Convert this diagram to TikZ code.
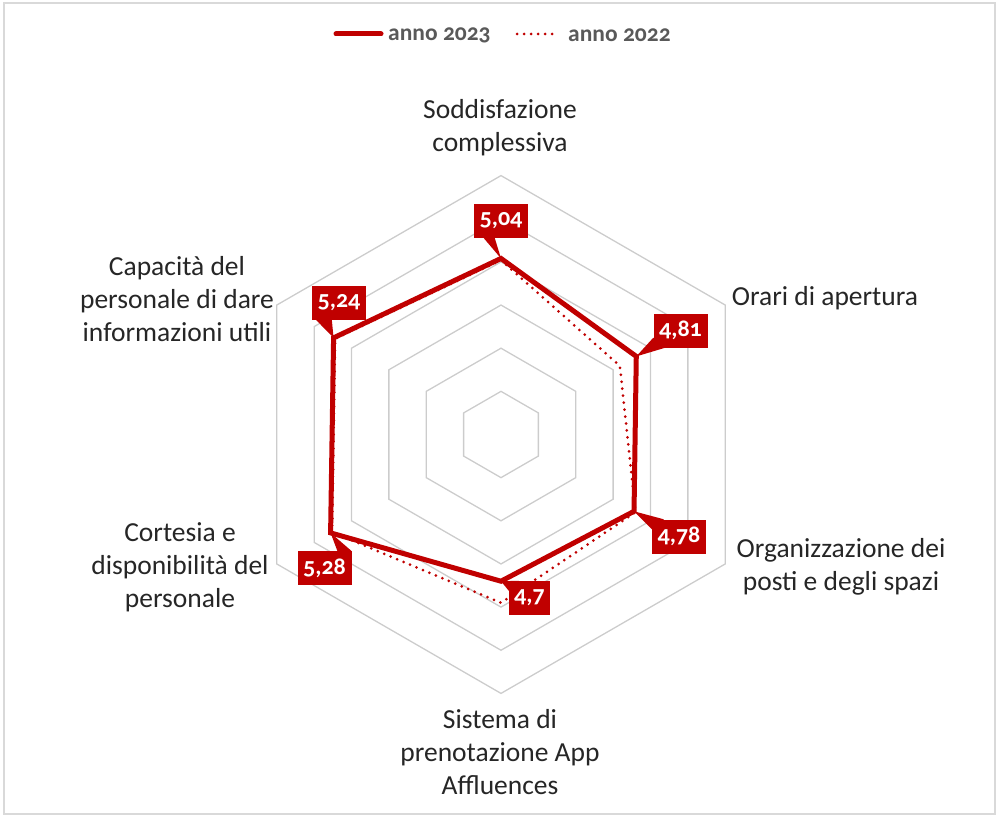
\documentclass[tikz,border=0pt]{standalone}
\usepackage{fontspec}
\setmainfont{Carlito}
\newfontfamily\oldnum{Carlito}[Numbers=OldStyle]
\usepackage{tikz}
\usetikzlibrary{positioning,calc}
\definecolor{chartred}{HTML}{C00000}
\definecolor{gridgray}{HTML}{CCCCCC}

\begin{document}
\begin{tikzpicture}[x=1pt, y=-1pt,
    axislab/.style={font=\fontsize{27.5}{33}\selectfont, text=black!85, align=center},
    vallab/.style={fill=chartred, text=white, inner sep=0pt,
      font=\oldnum\bfseries\fontsize{24}{24}\selectfont,
      minimum height=34pt, minimum width=54pt},
    legtext/.style={font=\oldnum\bfseries\fontsize{23.5}{24}\selectfont,
      text=black!65, anchor=west, inner sep=0pt}]
  \useasboundingbox (0,0) rectangle (997,816);
  % Frame
  \draw[gray!30, line width=1.5pt] (4,3) rectangle (995,814);

  % Legend
  \coordinate (la) at (336,34);
  \coordinate (lb) at (381,34);
  \coordinate (lc) at (517,34);
  \coordinate (ld) at (559,34);
  \draw[chartred, line width=5pt, line cap=round] (la) -- (lb);
  \node[legtext] (leg23) at (388,35) {anno 2023};
  \draw[chartred, line width=3pt, line cap=round, dash pattern=on 0pt off 7pt] (lc) -- (ld);
  \node[legtext] (leg22) at (568,35) {anno 2022};

  % Grid rings (axis from 3 to 6, step 0.5)
  \begin{scope}[shift={(501,434.5)}, y=1pt]
    \foreach \k in {1,...,6} {
      \draw[gridgray, line width=1.3pt, line join=miter]
        (90:{\k*43.15}) -- (30:{\k*43.15}) -- (-30:{\k*43.15}) --
        (-90:{\k*43.15}) -- (210:{\k*43.15}) -- (150:{\k*43.15}) -- cycle;
    }
    % anno 2023
    \foreach \a/\v/\n in {90/5.04/p1, 30/4.81/p2, -30/4.78/p3,
        -90/4.70/p4, 210/5.28/p5, 150/5.24/p6}
      \coordinate (\n) at (\a:{(\v-3)*86.3});
    % anno 2022
    \foreach \a/\v/\n in {90/5.02/q1, 30/4.59/q2, -30/4.80/q3,
        -90/4.95/q4, 210/5.26/q5, 150/5.22/q6}
      \coordinate (\n) at (\a:{(\v-3)*86.3});
  \end{scope}

  % Series
  \draw[chartred, line width=3pt, line cap=round, dash pattern=on 0pt off 7pt]
    (q1) -- (q2) -- (q3) -- (q4) -- (q5) -- (q6) -- cycle;
  \draw[chartred, line width=5pt, line join=miter]
    (p1) -- (p2) -- (p3) -- (p4) -- (p5) -- (p6) -- cycle;

  % Data labels
  \node[vallab] (v1) at (501,221) {5,04};
  \node[vallab] (v2) at (680.5,330.5) {4,81};
  \node[vallab] (v3) at (679,536.5) {4,78};
  \node[vallab, minimum width=41pt] (v4) at (529.5,598) {4,7};
  \node[vallab] (v5) at (324.5,568) {5,28};
  \node[vallab] (v6) at (339,302.5) {5,24};
  \fill[chartred] ([xshift=10pt]v1.south west) -- (p1) -- ([xshift=21pt]v1.south west) -- cycle;
  \fill[chartred] ([yshift=10pt]v2.south west) -- (p2) -- ([xshift=12pt]v2.south west) -- cycle;
  \fill[chartred] ([yshift=-10pt]v3.north west) -- (p3) -- ([xshift=12pt]v3.north west) -- cycle;
  \fill[chartred] ([yshift=-10pt]v4.north west) -- (p4) -- ([xshift=10pt]v4.north west) -- cycle;
  \fill[chartred] ([xshift=40pt]v5.north west) -- (p5) -- ([xshift=54pt]v5.north west) -- cycle;
  \fill[chartred] ([xshift=4pt]v6.south west) -- (p6) -- ([xshift=20pt]v6.south west) -- cycle;

  % Axis labels
  \node[axislab] (ax1) at (500,128) {Soddisfazione\\complessiva};
  \node[axislab] (ax2) at (825,298) {Orari di apertura};
  \node[axislab] (ax3) at (841,567) {Organizzazione dei\\posti e degli spazi};
  \node[axislab] (ax4) at (500,752) {Sistema di\\prenotazione App\\Affluences};
  \node[axislab] (ax5) at (180,567) {Cortesia e\\disponibilità del\\personale};
  \node[axislab] (ax6) at (177,299) {Capacità del\\personale di dare\\informazioni utili};
\end{tikzpicture}
\end{document}
